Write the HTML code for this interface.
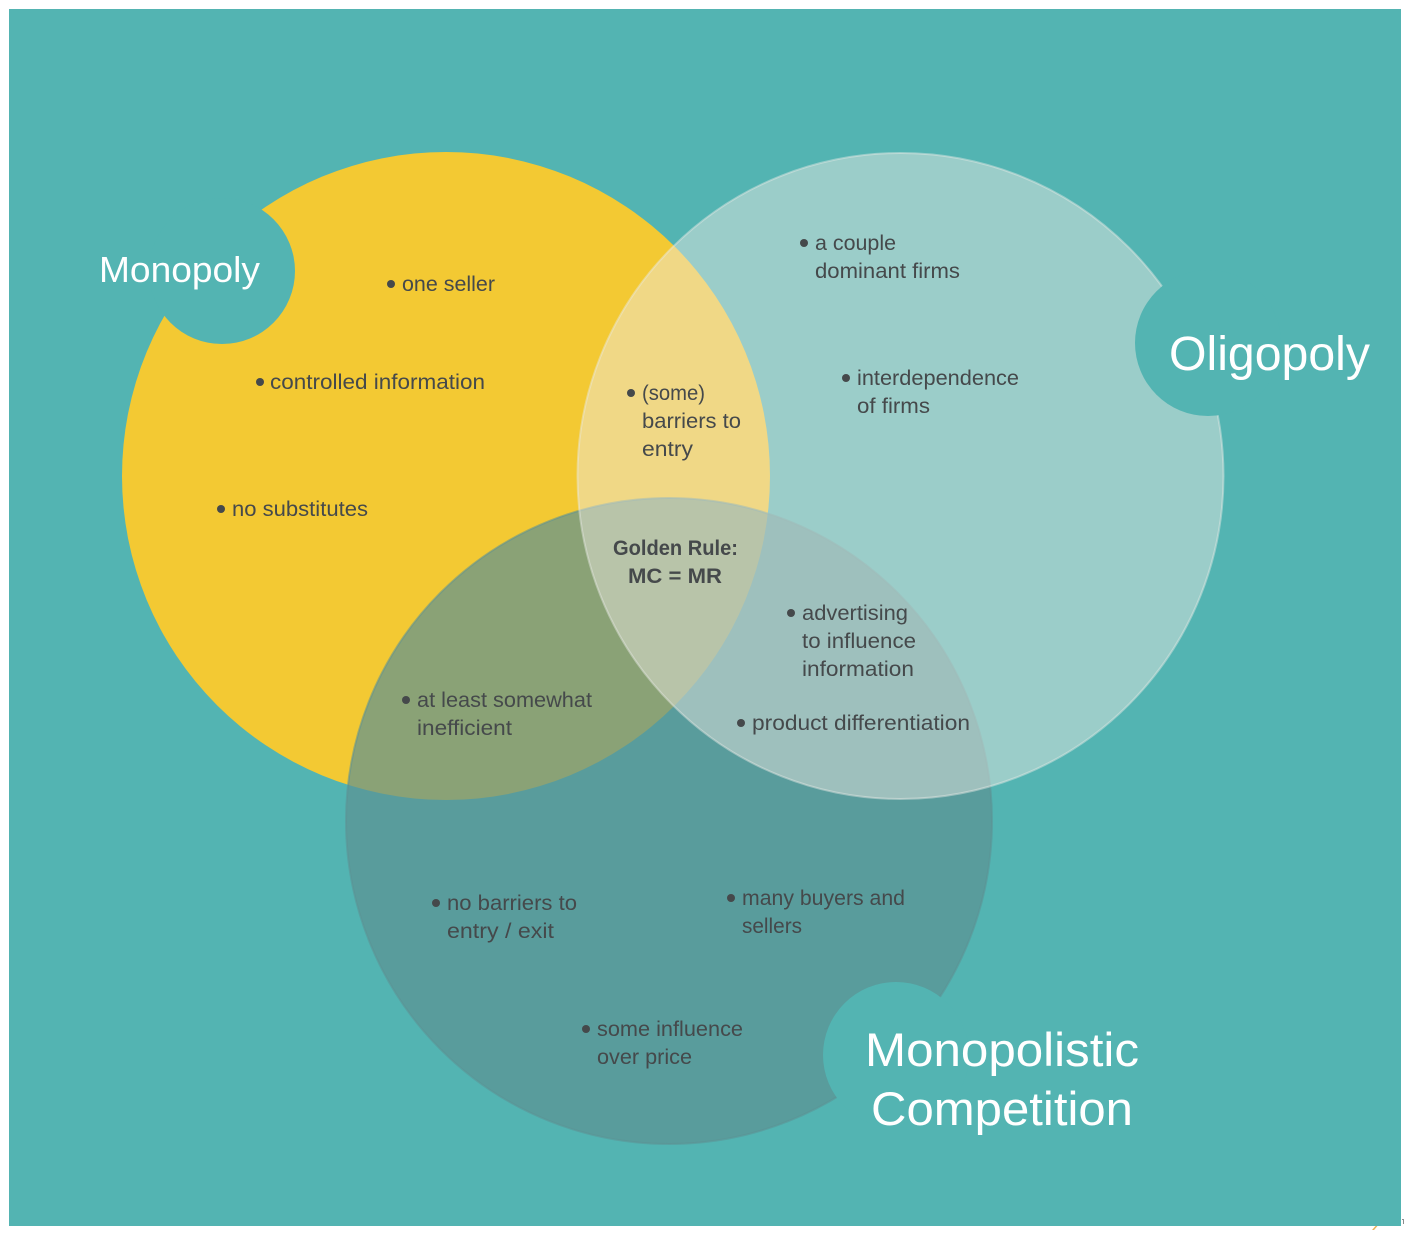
<!DOCTYPE html>
<html lang="en">
<head>
<meta charset="utf-8">
<title>Market structures Venn diagram</title>
<style>
html,body{margin:0;padding:0;background:#fff;width:1410px;height:1235px;overflow:hidden}
svg{display:block}
text{font-family:"Liberation Sans",sans-serif}
.t{font-size:21px;fill:#45494b}
.b{font-size:21px;fill:#45494b;font-weight:bold}
.w{fill:#fff}
.d{fill:#45494b}
</style>
</head>
<body>
<svg width="1410" height="1235" viewBox="0 0 1410 1235" xmlns="http://www.w3.org/2000/svg">
<rect x="9" y="9" width="1392" height="1217" fill="#53b4b2"/>

<circle cx="446" cy="476" r="324" fill="#f3c933"/>
<circle cx="222" cy="271" r="73" fill="#53b4b2"/>

<circle cx="669" cy="821" r="323" fill="#5d9293" fill-opacity=".7" stroke="#5d9293" stroke-opacity=".55" stroke-width="2"/>
<circle cx="896" cy="1055" r="73" fill="#53b4b2"/>

<circle cx="900.5" cy="476" r="323" fill="#ece9e3" fill-opacity=".47" stroke="#e8ece6" stroke-opacity=".45" stroke-width="2"/>
<circle cx="1208" cy="343" r="73" fill="#53b4b2"/>

<text class="w" x="99" y="282" font-size="36" textLength="161" lengthAdjust="spacingAndGlyphs">Monopoly</text>
<text class="w" x="1169" y="370" font-size="48" textLength="201" lengthAdjust="spacingAndGlyphs">Oligopoly</text>
<text class="w" x="865" y="1066" font-size="47" textLength="274" lengthAdjust="spacingAndGlyphs">Monopolistic</text>
<text class="w" x="871" y="1125" font-size="47" textLength="262" lengthAdjust="spacingAndGlyphs">Competition</text>

<g>
<circle class="d" cx="391" cy="284" r="4"/>
<text class="t" x="402" y="291" textLength="93" lengthAdjust="spacingAndGlyphs">one seller</text>
<circle class="d" cx="260" cy="382" r="4"/>
<text class="t" x="270" y="389" textLength="215" lengthAdjust="spacingAndGlyphs">controlled information</text>
<circle class="d" cx="221" cy="509" r="4"/>
<text class="t" x="232" y="516" textLength="136" lengthAdjust="spacingAndGlyphs">no substitutes</text>

<circle class="d" cx="631" cy="393" r="4"/>
<text class="t" x="642" y="400" textLength="63" lengthAdjust="spacingAndGlyphs">(some)</text>
<text class="t" x="642" y="428" textLength="99" lengthAdjust="spacingAndGlyphs">barriers to</text>
<text class="t" x="642" y="456" textLength="51" lengthAdjust="spacingAndGlyphs">entry</text>

<circle class="d" cx="804" cy="243" r="4"/>
<text class="t" x="815" y="250" textLength="81" lengthAdjust="spacingAndGlyphs">a couple</text>
<text class="t" x="815" y="278" textLength="145" lengthAdjust="spacingAndGlyphs">dominant firms</text>

<circle class="d" cx="846" cy="378" r="4"/>
<text class="t" x="857" y="385" textLength="162" lengthAdjust="spacingAndGlyphs">interdependence</text>
<text class="t" x="857" y="413" textLength="73" lengthAdjust="spacingAndGlyphs">of firms</text>

<text class="b" x="613" y="555" textLength="125" lengthAdjust="spacingAndGlyphs">Golden Rule:</text>
<text class="b" x="628" y="583" textLength="94" lengthAdjust="spacingAndGlyphs">MC = MR</text>

<circle class="d" cx="791" cy="613" r="4"/>
<text class="t" x="802" y="620" textLength="106" lengthAdjust="spacingAndGlyphs">advertising</text>
<text class="t" x="802" y="648" textLength="114" lengthAdjust="spacingAndGlyphs">to influence</text>
<text class="t" x="802" y="676" textLength="112" lengthAdjust="spacingAndGlyphs">information</text>

<circle class="d" cx="741" cy="723" r="4"/>
<text class="t" x="752" y="730" textLength="218" lengthAdjust="spacingAndGlyphs">product differentiation</text>

<circle class="d" cx="406" cy="700" r="4"/>
<text class="t" x="417" y="707" textLength="175" lengthAdjust="spacingAndGlyphs">at least somewhat</text>
<text class="t" x="417" y="735" textLength="95" lengthAdjust="spacingAndGlyphs">inefficient</text>

<circle class="d" cx="436" cy="903" r="4"/>
<text class="t" x="447" y="910" textLength="130" lengthAdjust="spacingAndGlyphs">no barriers to</text>
<text class="t" x="447" y="938" textLength="107" lengthAdjust="spacingAndGlyphs">entry / exit</text>

<circle class="d" cx="731" cy="898" r="4"/>
<text class="t" x="742" y="905" textLength="163" lengthAdjust="spacingAndGlyphs">many buyers and</text>
<text class="t" x="742" y="933" textLength="60" lengthAdjust="spacingAndGlyphs">sellers</text>

<circle class="d" cx="586" cy="1029" r="4"/>
<text class="t" x="597" y="1036" textLength="146" lengthAdjust="spacingAndGlyphs">some influence</text>
<text class="t" x="597" y="1064" textLength="95" lengthAdjust="spacingAndGlyphs">over price</text>
</g>

<path d="M1372 1230l3.500-4h2l-3.500 4z" fill="#e9b25a"/>
<rect x="1402" y="1219" width="2" height="1" fill="#8a8f90"/>
<rect x="1403" y="1219" width="1" height="5" fill="#8a8f90"/>
</svg>
</body>
</html>
